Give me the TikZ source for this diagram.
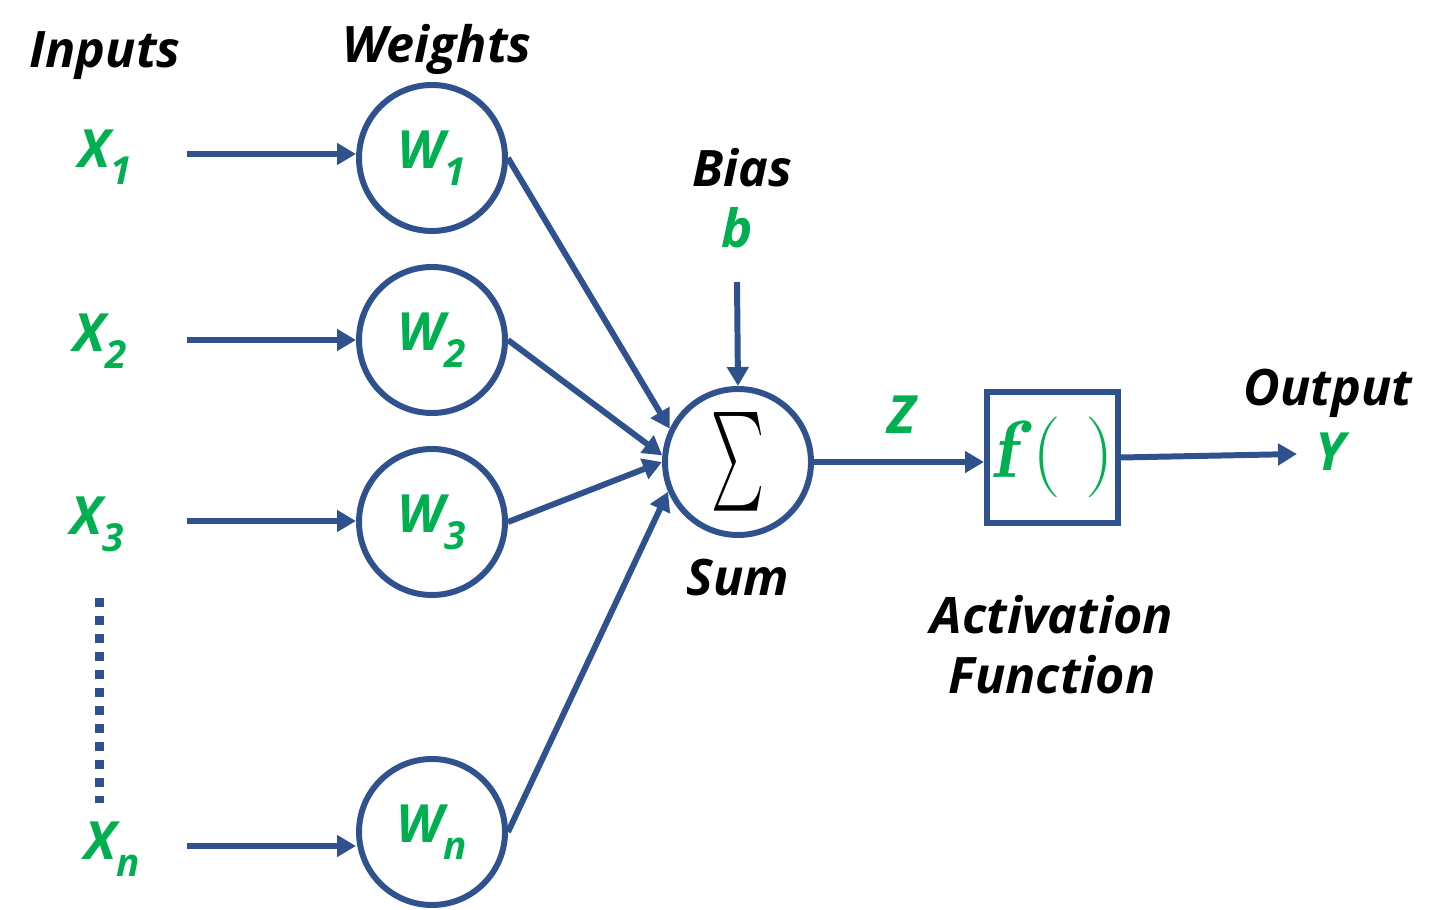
\documentclass[tikz,border=0pt]{standalone}
\usepackage{fontspec}
\setmainfont{Open Sans}
\usetikzlibrary{arrows.meta}
\definecolor{lineblue}{RGB}{47,82,143}
\definecolor{vargreen}{RGB}{0,176,80}
\newcommand\vsub[1]{\raisebox{-0.32em}{\fontsize{11}{11}\selectfont #1}}

\begin{document}
\begin{tikzpicture}[
        wire/.style={lineblue,line width=1.7pt},
        arr/.style={wire,-{Triangle[length=0.19cm,width=0.21cm]}},
        weightnode/.style={circle,draw=lineblue,line width=1.7pt,minimum size=1.46cm,inner sep=0pt},
        lbl/.style={font=\fontsize{14.3}{17}\selectfont\bfseries\itshape},
        var/.style={text=vargreen,font=\fontsize{15}{18}\selectfont\bfseries\itshape}
    ]
        \useasboundingbox (0,0) rectangle (14.49,9.09);

        % column titles
        \node[lbl] (inputs) at (1.05,8.53) {Inputs};
        \node[lbl] (weights) at (4.37,8.60) {Weights};

        % inputs
        \node[var] (x1) at (1.05,7.52) {X\vsub{1}};
        \node[var] (x2) at (1.00,5.68) {X\vsub{2}};
        \node[var] (x3) at (0.97,3.85) {X\vsub{3}};
        \node[var] (xn) at (1.12,0.60) {X\vsub{n}};
        \coordinate (s1) at (1.87,7.55);
        \coordinate (s2) at (1.87,5.69);
        \coordinate (s3) at (1.87,3.88);
        \coordinate (sn) at (1.87,0.63);
        \coordinate (dtop) at (0.99,3.11);
        \coordinate (dbot) at (0.99,1.06);
        \draw[lineblue,line width=0.09cm,dash pattern=on 0.09cm off 0.09cm] (dtop) -- (dbot);

        % weights
        \node[weightnode,var] (w1) at (4.32,7.51) {W\vsub{1}};
        \node[weightnode,var] (w2) at (4.32,5.69) {W\vsub{2}};
        \node[weightnode,var] (w3) at (4.32,3.87) {W\vsub{3}};
        \node[weightnode,var] (wn) at (4.32,0.77) {W\vsub{n}};
        \draw[arr] (s1) -- (s1 -| w1.west);
        \draw[arr] (s2) -- (s2 -| w2.west);
        \draw[arr] (s3) -- (s3 -| w3.west);
        \draw[arr] (sn) -- (sn -| wn.west);

        % sum and bias
        \node[weightnode] (sum) at (7.38,4.47) {\resizebox{0.53cm}{0.74cm}{$\sum$}};
        \node[lbl] (sumlabel) at (7.38,3.31) {Sum};
        \node[lbl] (bias) at (7.42,7.41) {Bias};
        \node[var] (b) at (7.37,6.81) {b};
        \coordinate (bstart) at (7.37,6.27);
        \draw[arr] (bstart) -- (sum.north);
        \draw[arr] (w1.east) -- (sum.154);
        \draw[arr] (w2.east) -- (sum.175);
        \draw[arr] (w3.east) -- (sum.180);
        \draw[arr] (wn.east) -- (sum.203);

        % activation
        \node[draw=lineblue,line width=1.7pt,minimum width=1.31cm,minimum height=1.31cm,inner sep=0pt,text=vargreen] (fbox) at (10.525,4.515)
            {\fontsize{23}{23}\fontfamily{lmr}\selectfont\textbf{\textit{f}}( )};
        \node[var] (z) at (9.02,4.94) {Z};
        \draw[arr] (sum) -- (sum -| fbox.west);
        \node[lbl,align=center] (actlabel) at (10.52,2.64) {Activation\\Function};

        % output
        \node[lbl] (output) at (13.28,5.16) {Output};
        \node[var] (y) at (13.30,4.57) {Y};
        \coordinate (yend) at (12.97,4.55);
        \draw[arr] (fbox.east) -- (yend);
    \end{tikzpicture}
\end{document}
